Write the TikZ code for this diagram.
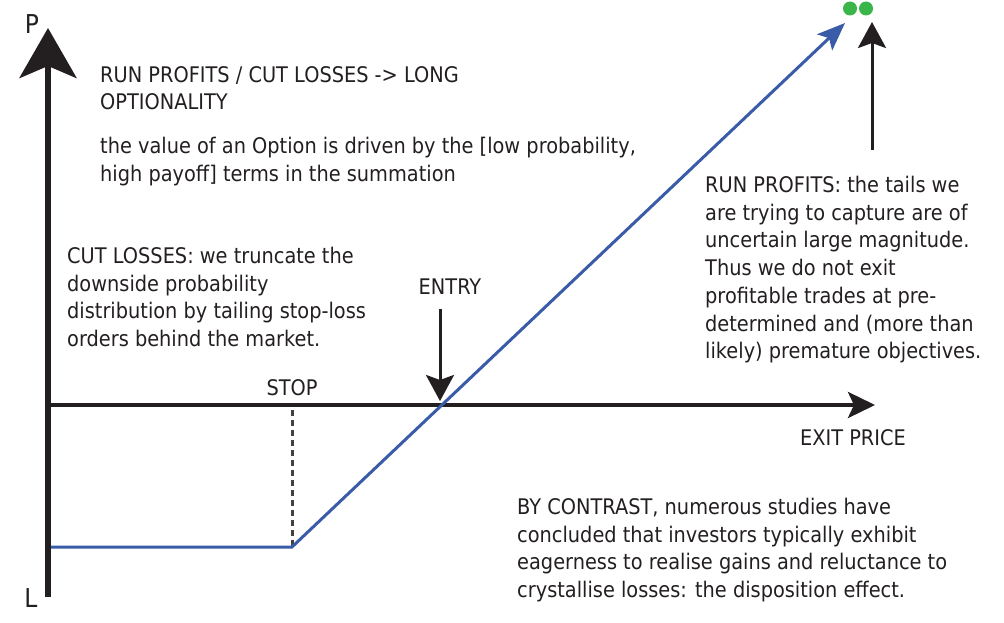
\documentclass[tikz,border=0pt]{standalone}
\usepackage{fontspec}
\setmainfont{DejaVu Sans}[FakeStretch=0.9]
\usetikzlibrary{arrows.meta}
\definecolor{ink}{HTML}{231F20}
\definecolor{blueline}{HTML}{3A5BA8}
\definecolor{dotgreen}{HTML}{3AB54A}
\begin{document}
\begin{tikzpicture}[x=1pt,y=-1pt,
  txt/.style={font=\fontsize{21.5}{27.7}\selectfont, text=ink, inner sep=0pt, align=left, anchor=north west},
  lbl/.style={font=\fontsize{21.5}{27.7}\selectfont, text=ink, inner sep=0pt},
  axislbl/.style={font=\fontsize{26}{30}\selectfont, text=ink, inner sep=0pt},
  thinarrow/.style={ink, line width=3pt, -{Stealth[length=26pt,width=28pt,inset=5pt]}}]
\useasboundingbox (0,0) rectangle (1004,623);
% coordinates
\coordinate (ybot) at (48,597);
\coordinate (ytop) at (48,28);
\coordinate (xleft) at (45,405);
\coordinate (xright) at (875,405);
\coordinate (b0) at (51,547);
\coordinate (stop) at (292,547);
\coordinate (btip) at (845,23);
\coordinate (stoptop) at (292,410);
\coordinate (entrytop) at (440,309);
\coordinate (entry) at (440,401);
\coordinate (runbot) at (872,150);
\coordinate (runtop) at (872,22);
% axes
\draw[ink, line width=6pt, -{Stealth[length=50pt,width=57pt,inset=12pt]}] (ybot) -- (ytop);
\draw[ink, line width=4pt, -{Stealth[length=27pt,width=26pt,inset=6pt]}] (xleft) -- (xright);
% dashed stop line
\draw[ink!85, line width=3pt, dash pattern=on 6pt off 4pt] (stoptop) -- (stop);
% payoff
\draw[blueline, line width=3pt, -{Stealth[length=28pt,width=22pt,inset=6pt]}] (b0) -- (stop) -- (btip);
% arrows
\draw[thinarrow] (entrytop) -- (entry);
\draw[thinarrow] (runbot) -- (runtop);
% dots
\fill[dotgreen] (850,8.5) circle (7);
\fill[dotgreen] (866,8.5) circle (7);
% labels
\node[axislbl] (P) at (32,24) {P};
\node[axislbl] (L) at (31,598) {L};
\node[lbl] (stoplbl) at (292,388) {STOP};
\node[lbl] (entrylbl) at (450,287) {ENTRY};
\node[lbl] (exitlbl) at (853,438) {EXIT PRICE};
% text blocks
\node[txt] (t1) at (100,66) {RUN PROFITS / CUT LOSSES -> LONG\\OPTIONALITY};
\node[txt] (t2) at (100,137) {the value of an Option is driven by the [low probability,\\high payoff] terms in the summation};
\node[txt] (t3) at (67,247) {CUT LOSSES: we truncate the\\downside probability\\distribution by tailing stop-loss\\orders behind the market.};
\node[txt] (t4) at (705,176) {RUN PROFITS: the tails we\\are trying to capture are of\\uncertain large magnitude.\\Thus we do not exit\\profitable trades at pre-\\determined and (more than\\likely) premature objectives.};
\node[txt] (t5) at (517,498) {BY CONTRAST, numerous studies have\\concluded that investors typically exhibit\\eagerness to realise gains and reluctance to\\crystallise losses: the disposition effect.};
\end{tikzpicture}
\end{document}
